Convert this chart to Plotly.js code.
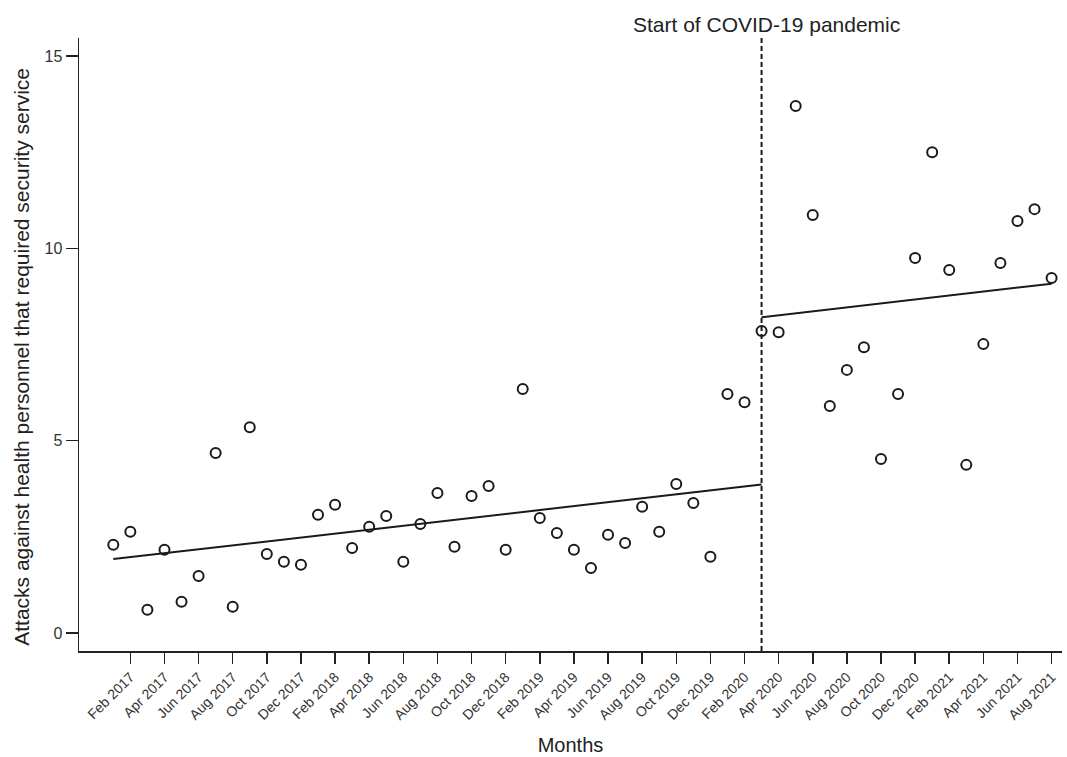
<!DOCTYPE html>
<html>
<head>
<meta charset="utf-8">
<script src="https://cdn.plot.ly/plotly-3.0.1.min.js"></script>
<style>html,body{margin:0;padding:0;background:#fff;}#chart{width:1067px;height:757px;}</style>
</head>
<body>
<div id="chart"></div>
<script>
const months = [
  'Jan 2017','Feb 2017','Mar 2017','Apr 2017','May 2017','Jun 2017','Jul 2017','Aug 2017','Sep 2017','Oct 2017','Nov 2017','Dec 2017',
  'Jan 2018','Feb 2018','Mar 2018','Apr 2018','May 2018','Jun 2018','Jul 2018','Aug 2018','Sep 2018','Oct 2018','Nov 2018','Dec 2018',
  'Jan 2019','Feb 2019','Mar 2019','Apr 2019','May 2019','Jun 2019','Jul 2019','Aug 2019','Sep 2019','Oct 2019','Nov 2019','Dec 2019',
  'Jan 2020','Feb 2020','Mar 2020','Apr 2020','May 2020','Jun 2020','Jul 2020','Aug 2020','Sep 2020','Oct 2020','Nov 2020','Dec 2020',
  'Jan 2021','Feb 2021','Mar 2021','Apr 2021','May 2021','Jun 2021','Jul 2021','Aug 2021'
];
const attacks = [
  2.29, 2.63, 0.60, 2.16, 0.81, 1.48, 4.68, 0.68, 5.35, 2.05, 1.85, 1.77,
  3.07, 3.33, 2.21, 2.76, 3.04, 1.85, 2.83, 3.64, 2.24, 3.56, 3.82, 2.16,
  6.34, 2.99, 2.60, 2.16, 1.69, 2.55, 2.34, 3.28, 2.63, 3.87, 3.38, 1.98,
  6.21, 6.00, 7.85, 7.82, 13.70, 10.87, 5.90, 6.84, 7.43, 4.52, 6.21, 9.75,
  12.50, 9.44, 4.37, 7.51, 9.62, 10.71, 11.02, 9.23
];
const fitPreX = ['Jan 2017', 'Mar 2020'];
const fitPreY = [1.92, 3.86];
const fitPostX = ['Mar 2020', 'Aug 2021'];
const fitPostY = [8.21, 9.08];
const breakMonth = 'Mar 2020';
const breakLabel = 'Start of COVID-19 pandemic';
const yTitle = 'Attacks against health personnel that required security service';
const xTitle = 'Months';
const tickLabels = months.filter((m, i) => i % 2 === 1);

const font = 'Liberation Sans, Arial, Helvetica, sans-serif';

const traces = [
  {x: months, y: attacks, type: 'scatter', mode: 'markers',
   marker: {symbol: 'circle-open', size: 10, color: '#1a1a1a', line: {width: 2, color: '#1a1a1a'}},
   showlegend: false, cliponaxis: false},
  {x: fitPreX, y: fitPreY, type: 'scatter', mode: 'lines',
   line: {color: '#1a1a1a', width: 2}, showlegend: false},
  {x: fitPostX, y: fitPostY, type: 'scatter', mode: 'lines',
   line: {color: '#1a1a1a', width: 2}, showlegend: false}
];

const layout = {
  width: 1067, height: 757,
  margin: {l: 79, r: 5, t: 38, b: 106},
  paper_bgcolor: '#fff', plot_bgcolor: '#fff',
  font: {family: font, color: '#222'},
  showlegend: false,
  xaxis: {
    type: 'category',
    categoryorder: 'array', categoryarray: months,
    range: [-2.01, 55.61],
    tickvals: tickLabels, ticktext: tickLabels,
    tickangle: -45,
    tickfont: {size: 14, color: '#333', family: font},
    ticks: 'outside', ticklen: 11, tickwidth: 1.5, tickcolor: '#222',
    showgrid: false, zeroline: false,
    showline: true, linecolor: '#222', linewidth: 1.5,
    automargin: false,
    title: {text: xTitle, font: {size: 20, color: '#222', family: font}, standoff: 16}
  },
  yaxis: {
    range: [-0.47, 15.47],
    tickvals: [0, 5, 10, 15],
    tickfont: {size: 16, color: '#333', family: font},
    ticks: 'outside', ticklen: 12, tickwidth: 1.5, tickcolor: '#222',
    showgrid: false, zeroline: false,
    showline: true, linecolor: '#222', linewidth: 1.5,
    automargin: false
  },
  shapes: [
    {type: 'line', xref: 'x', yref: 'paper', x0: breakMonth, x1: breakMonth, y0: 0, y1: 1.005,
     line: {color: '#1a1a1a', width: 2, dash: '5px,3px'}}
  ],
  annotations: [
    {xref: 'x', yref: 'paper', x: breakMonth, y: 1.0, xshift: 5, yanchor: 'bottom', xanchor: 'center',
     text: breakLabel, showarrow: false, font: {size: 21, color: '#222', family: font}},
    {xref: 'paper', yref: 'paper', x: 0, xshift: -57, y: 0.48, xanchor: 'center', yanchor: 'middle',
     textangle: -90, text: yTitle, showarrow: false, font: {size: 21, color: '#222', family: font}}
  ]
};

Plotly.newPlot('chart', traces, layout, {displayModeBar: false, staticPlot: true});
</script>
</body>
</html>
